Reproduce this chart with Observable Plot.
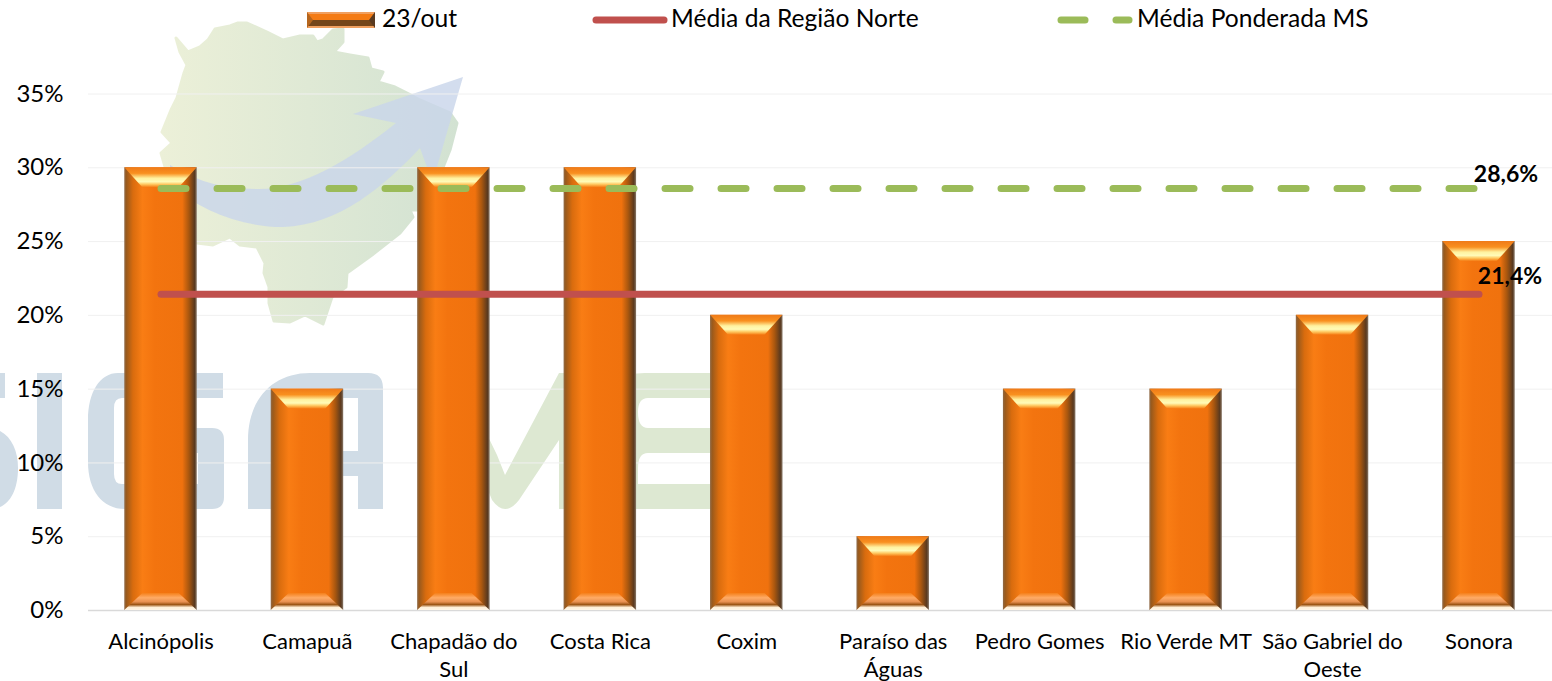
<!DOCTYPE html>
<html lang="pt">
<head>
<meta charset="utf-8">
<script src="https://cdn.jsdelivr.net/npm/d3@7"></script>
<script src="https://cdn.jsdelivr.net/npm/@observablehq/plot@0.6"></script>
<style>
  html, body { margin: 0; padding: 0; background: #fff; overflow: hidden; }
  body { width: 1552px; height: 681px; position: relative; font-family: Lato, sans-serif; color: #000; }
  #watermark { position: absolute; left: 0; top: 0; z-index: 0; }
  #legend { position: relative; height: 40px; z-index: 2; font-size: 24.6px; }
  #legend span, #legend svg { position: absolute; }
  #legend span { top: 3px; line-height: 30px; white-space: nowrap; }
  #chart { position: relative; z-index: 1; }
  #chart svg { display: block; }
</style>
</head>
<body>
<svg id="watermark" width="1552" height="681" viewBox="0 0 1552 681">
  <defs>
    <linearGradient id="mapFill" gradientUnits="userSpaceOnUse" x1="160" x2="458" y1="0" y2="0">
      <stop offset="0" stop-color="#ecf0d8"/>
      <stop offset="1" stop-color="#d2e2d2"/>
    </linearGradient>
  </defs>
  <path fill="url(#mapFill)" stroke="url(#mapFill)" stroke-width="3" stroke-linejoin="round" d="M176 38 L180 52 L187 65 L184 73 L177 98 L171 110 L162 132 L172 143 L161 153 L166 170 L170 220 L197 243 L213 245 L230 237 L240 245 L257 247 L265 263 L264 273 L269 287 L269 303 L274 321 L290 322 L305 315 L323 324 L332 297 L346 287 L347 273 L372 255 L400 233 L413 217 L410 210 L417 210 L440 175 L450 150 L457 123 L450 113 L420 100 L407 93 L395 87 L378 82 L383 72 L371 69 L368 58 L350 55 L334 52 L343 42 L343 29 L333 30 L323 40 L317 42 L313 36 L300 36 L283 40 L267 32 L247 23 L238 23 L230 26 L215 29 L208 40 L200 47 L188 52 Z"/>
  <path fill="#c9d6ea" fill-opacity="0.82" d="M463 77 L353 114 L396 123 C350 160 300 190 257 189 C220 189 195 180 170 165 L170 185 C200 210 240 227 283 227 C340 225 385 185 420 148 L427 167 L437 167 Z"/>
  <g fill="#d0dce6">
    <path d="M0 373 H5 V398 H0 Z M0 431 C12 437 18 452 18 468 C18 490 10 503 0 507 Z"/>
    <rect x="37" y="373" width="25" height="136"/>
    <path fill-rule="evenodd" d="M118 373 H223 V398 H122 Q114 398 114 408 V474 Q114 484 122 484 H198 V453 H165 V428 H212 Q224 428 224 440 V497 Q224 509 212 509 H125 C102 509 88 490 88 462 V420 C88 392 100 373 118 373 Z"/>
    <path fill-rule="evenodd" d="M310 373 H368 Q383 373 383 388 V509 H358 V476 H273 V509 H248 V440 C248 400 272 373 310 373 Z M312 398 C290 398 273 420 273 451 H358 V398 Z"/>
  </g>
  <g fill="#dde8d2">
    <path d="M480 420 L497 455 L505 475 L559 373 H585 V509 H559 V440 L519 500 Q505 518 492 500 L480 470 Z"/>
    <path d="M645 373 H712 V398 H648 Q638 398 638 412 Q638 428 648 428 H712 V453 H648 Q638 453 638 468 V484 H712 V509 H600 V398 Q610 373 645 373 Z"/>
  </g>
</svg>

<div id="legend">
  <svg style="left:307px;top:12px" width="68" height="16" viewBox="0 0 68 16">
    <rect width="68" height="16" fill="#f0a060"/>
    <rect y="2" width="68" height="6" fill="#f47b14"/>
    <rect y="8" width="68" height="6" fill="#75461a"/>
    <path d="M0 0 L6 8 L0 16 Z" fill="#b5651d"/>
    <path d="M68 0 L62 8 L68 16 Z" fill="#5a3a20"/>
  </svg>
  <span style="left:382px">23/out</span>
  <svg style="left:592px;top:16px" width="76" height="8"><line x1="4" x2="72" y1="4" y2="4" stroke="#c0504d" stroke-width="7" stroke-linecap="round"/></svg>
  <span style="left:671px">Média da Região Norte</span>
  <svg style="left:1056px;top:16px" width="80" height="8"><line x1="5" x2="29" y1="4" y2="4" stroke="#9bbb59" stroke-width="7" stroke-linecap="round"/><line x1="60" x2="73" y1="4" y2="4" stroke="#9bbb59" stroke-width="7" stroke-linecap="round"/></svg>
  <span style="left:1137px">Média Ponderada MS</span>
</div>
<div id="chart"></div>

<script>
const categories = ["Alcinópolis", "Camapuã", "Chapadão do Sul", "Costa Rica", "Coxim", "Paraíso das Águas", "Pedro Gomes", "Rio Verde MT", "São Gabriel do Oeste", "Sonora"];
const tickLabels = ["Alcinópolis", "Camapuã", "Chapadão do\nSul", "Costa Rica", "Coxim", "Paraíso das\nÁguas", "Pedro Gomes", "Rio Verde MT", "São Gabriel do\nOeste", "Sonora"];
const values23out = [0.30, 0.15, 0.30, 0.30, 0.20, 0.05, 0.15, 0.15, 0.20, 0.25];
const mediaRegiaoNorte = [0.214, 0.214, 0.214, 0.214, 0.214, 0.214, 0.214, 0.214, 0.214, 0.214];
const mediaPonderadaMS = [0.286, 0.286, 0.286, 0.286, 0.286, 0.286, 0.286, 0.286, 0.286, 0.286];
const yTicks = [0, 0.05, 0.10, 0.15, 0.20, 0.25, 0.30, 0.35];

const gradient = (id, vertical, stops) =>
  `<linearGradient id="${id}" x1="0" y1="0" x2="${vertical ? 0 : 1}" y2="${vertical ? 1 : 0}">` +
  stops.map(([o, c]) => `<stop offset="${o}" stop-color="${c}"/>`).join("") + `</linearGradient>`;

const defs = () => {
  const g = d3.create("svg:defs");
  g.html(
    gradient("barBody", false, [[0, "#8f6a48"], [0.03, "#9a5a1c"], [0.12, "#d96c0e"], [0.25, "#f97d14"], [0.42, "#f3740f"], [0.8, "#f0720e"], [0.89, "#a9570f"], [0.97, "#59391f"], [1, "#8a7a6a"]]) +
    gradient("bevelTop", true, [[0, "#ef7a18"], [0.3, "#f9901f"], [0.55, "#fff2a0"], [0.72, "#fffbb8"], [0.85, "#ffc860"], [1, "#f57a12"]]) +
    gradient("bevelBottom", true, [[0, "#f5801a"], [0.28, "#ffab66"], [0.52, "#e89050"], [0.68, "#9c5413"], [0.85, "#fff0d8"], [1, "#fff6e8"]])
  );
  return g.node();
};

const bevel = (index, scales, values, dimensions, context, next) => {
  const g = next(index, scales, values, dimensions, context);
  d3.select(g).selectAll("rect").each(function () {
    const x = +this.getAttribute("x"), w = +this.getAttribute("width");
    const y = +this.getAttribute("y"), h = +this.getAttribute("height");
    const parent = d3.select(this.parentNode);
    const poly = (pts, fill) => parent.append("polygon").attr("points", pts.join(" ")).attr("fill", fill);
    const it = 18, ht = 20, hb = 17;
    poly([[x, y], [x + w, y], [x + w - it, y + ht], [x + it, y + ht]], "url(#bevelTop)");
    poly([[x + it, y + h - hb], [x + w - it, y + h - hb], [x + w, y + h], [x, y + h]], "url(#bevelBottom)");
  });
  return g;
};

const chart = Plot.plot({
  width: 1552,
  height: 641,
  marginTop: 53.5,
  marginRight: 0,
  marginBottom: 71,
  marginLeft: 88,
  style: { background: "transparent", fontFamily: "Lato, sans-serif", fontSize: "20px", color: "#000", overflow: "visible" },
  x: { domain: categories, range: [87.3, 1551.7], round: false, paddingInner: 0.505, paddingOuter: 0.2525, label: null },
  y: { domain: [0, 0.35], label: null },
  marks: [
    defs,
    Plot.gridY(yTicks, { stroke: "#f0f0f0", strokeOpacity: 1 }),
    Plot.axisY(yTicks, { tickSize: 0, tickPadding: 25, label: null, tickFormat: d => `${Math.round(d * 100)}%`, fontSize: 24 }),
    Plot.axisX({ tickSize: 0, tickPadding: 19, label: null, tickFormat: d => tickLabels[categories.indexOf(d)], fontSize: 22, lineHeight: 1.27 }),
    Plot.ruleY([0], { stroke: "#d9d9d9", strokeWidth: 1.5 }),
    Plot.barY(categories, { x: d => d, y: (d, i) => values23out[i], fill: "url(#barBody)", render: bevel }),
    Plot.line(categories, { x: d => d, y: (d, i) => mediaRegiaoNorte[i], stroke: "#c0504d", strokeWidth: 7, strokeLinecap: "round", dy: -0.5 }),
    Plot.line(categories, { x: d => d, y: (d, i) => mediaPonderadaMS[i], stroke: "#9bbb59", strokeWidth: 7, strokeLinecap: "round", strokeDasharray: "25,31" }),
    Plot.text(["28,6%"], { x: () => categories[9], y: () => mediaPonderadaMS[9], text: d => d, dx: 27, dy: -14, fontWeight: "bold", fontSize: 23, fill: "#000" }),
    Plot.text(["21,4%"], { x: () => categories[9], y: () => mediaRegiaoNorte[9], text: d => d, dx: 31, dy: -18, fontWeight: "bold", fontSize: 23, fill: "#000" })
  ]
});
document.getElementById("chart").appendChild(chart);
</script>
</body>
</html>
